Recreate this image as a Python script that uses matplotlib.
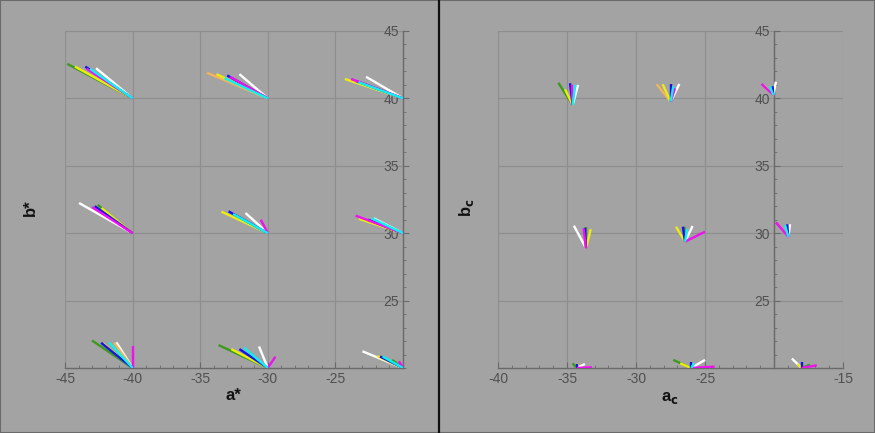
import numpy as np
import matplotlib
matplotlib.use("Agg")
import matplotlib.pyplot as plt
from matplotlib.ticker import MultipleLocator, FixedLocator
from matplotlib.lines import Line2D
from matplotlib.patches import Rectangle

plt.rcParams['axes.unicode_minus'] = False
plt.rcParams['font.family'] = ['Liberation Sans', 'DejaVu Sans']

# ---------------- data ----------------
# Left panel (a*, b*): convergence points of each group
left_end_a = [-40, -30, -20, -40, -30, -20, -40, -30, -20]
left_end_b = [40, 40, 40, 30, 30, 30, 20, 20, 20]
# start points of each coloured segment per group (None = absent)
left_green = [(-44.83, 42.56), None, None, (-42.58, 32.10), None, None,
              (-43.00, 22.04), (-33.64, 21.70), (-20.80, 20.60)]
left_orange = [None, (-34.50, 41.90), None, None, None, None,
               (-41.37, 21.87), None, None]
left_yellow = [(-44.26, 42.36), (-33.80, 41.80), (-24.30, 41.44), (-42.30, 31.87), (-33.43, 31.60),
               (-23.27, 31.07), (-42.16, 21.80), (-32.70, 21.40), (-21.90, 20.88)]
left_blue = [(-43.50, 42.36), (-33.00, 41.70), (-23.50, 41.30), (-42.80, 32.00), (-32.90, 31.62),
             (-22.60, 31.00), (-42.33, 21.87), (-32.10, 21.40), (-21.70, 20.85)]
left_magenta = [(-43.40, 42.20), (-32.80, 41.60), (-23.84, 41.44), (-43.00, 31.94), (-30.52, 31.00),
                (-23.50, 31.30), (-40.00, 21.60), (-29.44, 20.84), (-20.30, 20.50)]
left_cyan = [(-43.15, 42.20), (-33.20, 41.50), (-23.30, 41.20), None, (-32.57, 31.42),
             (-22.30, 31.10), (-41.74, 21.90), (-31.76, 21.50), (-21.50, 20.85)]
left_white = [(-42.70, 42.24), (-32.10, 41.80), (-22.73, 41.60), (-43.96, 32.24), (-31.65, 31.50),
              (-22.16, 31.10), (-41.20, 21.90), (-30.65, 21.60), (-23.00, 21.24)]

# Right panel (a_c, b_c)
right_end_a = [-34.59, -27.49, -20.05, -33.62, -26.45, -18.96, -34.30, -26.00, -18.00]
right_end_b = [39.51, 39.76, 40.25, 28.88, 29.37, 29.74, 20.00, 20.00, 20.00]
right_green = [(-35.63, 41.16), None, None, (-33.62, 30.48), (-26.50, 30.48), None,
               (-34.60, 20.35), (-27.30, 20.60), (-17.40, 20.25)]
right_orange = [None, (-28.50, 41.05), None, None, None, None, None, None, None]
right_yellow = [(-35.14, 40.67), (-28.07, 41.05), (-20.75, 40.95), (-33.28, 30.30), (-27.10, 30.48),
                None, (-34.20, 20.30), (-26.80, 20.35), (-18.30, 20.30)]
right_blue = [(-34.78, 41.12), (-27.49, 41.05), (-20.10, 40.90), (-33.70, 30.40), (-26.60, 30.48),
              (-19.05, 30.66), (-34.30, 20.30), (-26.00, 20.45), (-18.00, 20.45)]
right_magenta = [(-34.65, 41.00), (-27.17, 40.75), (-20.90, 41.07), (-33.80, 30.36), (-25.00, 30.11),
                 (-19.86, 30.80), (-33.20, 20.05), (-24.30, 20.10), (-16.90, 20.20)]
right_cyan = [(-34.40, 41.00), (-27.30, 40.90), (-20.30, 40.90), None, (-26.30, 30.30),
              (-19.20, 30.60), None, (-25.80, 20.35), None]
right_white = [(-34.20, 41.00), (-26.86, 41.07), (-19.86, 41.24), (-34.50, 30.56), (-25.90, 30.53),
               (-18.84, 30.66), (-33.70, 20.30), (-25.00, 20.60), (-18.70, 20.70)]

x_ticks_left = [-45, -40, -35, -30, -25]
x_ticks_right = [-40, -35, -30, -25, -15]
y_ticks = [25, 30, 35, 40, 45]

colors = {
    'green': '#3c9a1e', 'orange': '#f2b45a', 'yellow': '#ecec10', 'blue': '#1414e6',
    'magenta': '#f010f0', 'cyan': '#10f0f0', 'white': '#ffffff',
}

BG = '#a3a3a3'
fig = plt.figure(figsize=(8.75, 4.33), dpi=100, facecolor=BG)


def setup(ax, xlim, xticks, xlabel, ylabel, xlab_pos, ylab_pos):
    ax.set_facecolor(BG)
    ax.set_xlim(*xlim)
    ax.set_ylim(20, 45)
    for s in ['top', 'right']:
        ax.spines[s].set_visible(False)
    ax.spines['left'].set_position(('data', -20))
    for s in ['left', 'bottom']:
        ax.spines[s].set_color('#6a6a6a')
        ax.spines[s].set_linewidth(1.0)
    ax.xaxis.set_major_locator(FixedLocator(xticks))
    ax.xaxis.set_minor_locator(MultipleLocator(1))
    ax.yaxis.set_major_locator(FixedLocator(y_ticks))
    ax.yaxis.set_minor_locator(MultipleLocator(1))
    ax.tick_params(which='major', direction='in', length=4, width=0.8, color='#6a6a6a',
                   labelsize=10, labelcolor='#505050', pad=3)
    ax.tick_params(which='minor', direction='in', length=2, width=0.6, color='#6a6a6a')
    gx = [t for t in range(int(xlim[0]), int(xlim[1]) + 1, 5)]
    for g in gx:
        ax.axvline(g, color='#8e8e8e', lw=0.8, zorder=0)
    for g in y_ticks:
        ax.axhline(g, color='#8e8e8e', lw=0.8, zorder=0)
    fig.text(xlab_pos[0], xlab_pos[1], xlabel, ha='center', va='center', fontsize=12,
             fontweight='bold', color='#111111')
    fig.text(ylab_pos[0], ylab_pos[1], ylabel, ha='center', va='center', fontsize=12,
             fontweight='bold', color='#111111', rotation=90)


def draw(ax, end_a, end_b, series):
    for name, starts in series:
        for i, st in enumerate(starts):
            if st is None:
                continue
            ax.plot([st[0], end_a[i]], [st[1], end_b[i]], color=colors[name], lw=1.7,
                    solid_capstyle='butt', zorder=3, clip_on=True)


ax1 = fig.add_axes([65 / 875, 1 - 368 / 433, 338 / 875, 337 / 433])
setup(ax1, (-45, -20), x_ticks_left, 'a*', 'b*', (233 / 875, 1 - 395 / 433), (30 / 875, 1 - 208 / 433))
draw(ax1, left_end_a, left_end_b, [
    ('white', left_white), ('green', left_green), ('orange', left_orange), ('yellow', left_yellow),
    ('blue', left_blue), ('magenta', left_magenta), ('cyan', left_cyan)])

ax2 = fig.add_axes([498 / 875, 1 - 368 / 433, 345 / 875, 337 / 433])
setup(ax2, (-40, -15), x_ticks_right, 'a$_\\mathbf{c}$', 'b$_\\mathbf{c}$',
      (670 / 875, 1 - 398 / 433), (466 / 875, 1 - 208 / 433))
draw(ax2, right_end_a, right_end_b, [
    ('white', right_white), ('green', right_green), ('orange', right_orange), ('yellow', right_yellow),
    ('blue', right_blue), ('magenta', right_magenta), ('cyan', right_cyan)])

# divider and frame
fig.add_artist(Line2D([439 / 875, 439 / 875], [0, 1], color='#111111', lw=1.6))
fig.add_artist(Rectangle((0, 0), 1, 1, fill=False, edgecolor='#6a6a6a', lw=1.5,
                         transform=fig.transFigure))

fig.savefig('out.png', dpi=100, facecolor=BG)
